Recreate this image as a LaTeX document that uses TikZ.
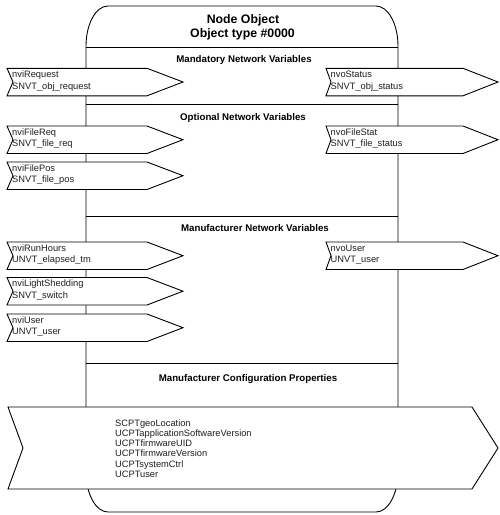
\documentclass[tikz,border=0pt]{standalone}
\usepackage{fontspec}
\setmainfont{Liberation Sans}
\newcommand\twol[2]{\begin{tabular}[t]{@{}l@{}}#1\\#2\end{tabular}}
\tikzset{
  box/.style={draw=black, fill=white, line width=0.9pt, line join=miter},
  body/.style={draw=black, fill=white, line width=0.9pt},
  divider/.style={draw=black, line width=0.9pt},
  lbl/.style={inner sep=0pt, anchor=base west, text=black!88, font=\fontsize{9.3}{11.4}\selectfont},
  cplbl/.style={inner sep=0pt, anchor=base west, text=black!88, font=\fontsize{9.3}{10.26}\selectfont},
  hdr/.style={inner sep=0pt, anchor=base, font=\bfseries\fontsize{9.7}{11}\selectfont},
  ttl/.style={inner sep=0pt, anchor=base, font=\bfseries\fontsize{12.3}{14}\selectfont},
}
\newcommand\inbox[4]{%
  \draw[box] (7,#2) -- (147,#2) -- (183,#2+13.7) -- (147,#2+27.5) -- (7,#2+27.5) -- (13,#2+13.7) -- cycle;
  \node[lbl] (#1) at (12,#2+9.4) {\twol{#3}{#4}};
}
\newcommand\outbox[4]{%
  \draw[box] (326,#2) -- (463,#2) -- (498,#2+13.7) -- (463,#2+27.5) -- (326,#2+27.5) -- (331,#2+13.7) -- cycle;
  \node[lbl] (#1) at (330.5,#2+9.4) {\twol{#3}{#4}};
}
\begin{document}
\begin{tikzpicture}[x=1pt,y=-1pt]
\useasboundingbox (0,0) rectangle (499,515);
% object body
\path[body] (86,46) .. controls (86,23.9) and (95.9,6) .. (108,6) -- (376,6)
  .. controls (388.1,6) and (398,23.9) .. (398,46) -- (398,472)
  .. controls (398,494.1) and (388.1,512) .. (376,512) -- (108,512)
  .. controls (95.9,512) and (86,494.1) .. (86,472) -- cycle;
% section dividers
\draw[divider] (86,47) -- (398,47);
\draw[divider] (86,104) -- (398,104);
\draw[divider] (86,216) -- (398,216);
\draw[divider] (86,363) -- (398,363);
% titles
\node[ttl] (title1) at (243,23.3) {Node Object};
\node[ttl] (title2) at (242.5,37.3) {Object type \#0000};
\node[hdr] (mand) at (244,62.7) {Mandatory Network Variables};
\node[hdr] (opt) at (243,120) {Optional Network Variables};
\node[hdr] (mnv) at (255,231.7) {Manufacturer Network Variables};
\node[hdr] (mcp) at (248,381) {Manufacturer Configuration Properties};
% network variables
\inbox{nviRequest}{68.3}{nviRequest}{SNVT\_obj\_request}
\outbox{nvoStatus}{68.3}{nvoStatus}{SNVT\_obj\_status}
\inbox{nviFileReq}{126}{nviFileReq}{SNVT\_file\_req}
\outbox{nvoFileStat}{126}{nvoFileStat}{SNVT\_file\_status}
\inbox{nviFilePos}{162}{nviFilePos}{SNVT\_file\_pos}
\inbox{nviRunHours}{242}{nviRunHours}{UNVT\_elapsed\_tm}
\outbox{nvoUser}{242}{nvoUser}{UNVT\_user}
\inbox{nviLightShedding}{277.5}{nviLightShedding}{SNVT\_switch}
\inbox{nviUser}{314}{nviUser}{UNVT\_user}
% configuration properties
\draw[box] (8,407) -- (472,407) -- (498,448) -- (472,489) -- (8,489) -- (23,448) -- cycle;
\node[cplbl] (cps) at (115,426) {\begin{tabular}[t]{@{}l@{}}SCPTgeoLocation\\UCPTapplicationSoftwareVersion\\UCPTfirmwareUID\\UCPTfirmwareVersion\\UCPTsystemCtrl\\UCPTuser\end{tabular}};
\end{tikzpicture}
\end{document}
